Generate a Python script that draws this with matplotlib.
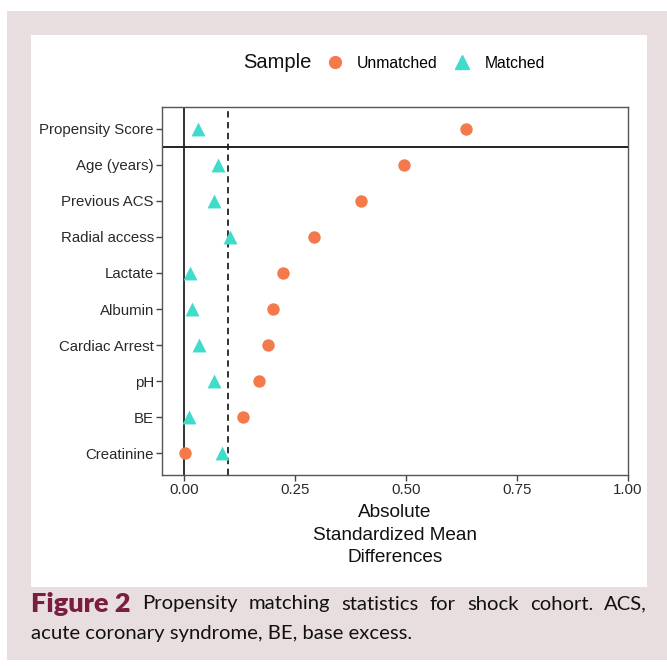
import matplotlib.pyplot as plt
from matplotlib.patches import Rectangle
from matplotlib.lines import Line2D

plt.rcParams["font.family"] = ["Liberation Sans", "DejaVu Sans"]

# covariates, top to bottom
covariates = ["Propensity Score", "Age (years)", "Previous ACS", "Radial access",
              "Lactate", "Albumin", "Cardiac Arrest", "pH", "BE", "Creatinine"]
unmatched = [0.635, 0.496, 0.399, 0.293, 0.223, 0.200, 0.189, 0.168, 0.133, 0.002]
matched = [0.031, 0.076, 0.067, 0.103, 0.013, 0.017, 0.033, 0.067, 0.011, 0.085]
xticks = [0.00, 0.25, 0.50, 0.75, 1.00]
xtick_labels = ["0.00", "0.25", "0.50", "0.75", "1.00"]

caption_head = "Figure 2"
caption_line1 = "Propensity matching statistics for shock cohort. ACS,"
caption_line2 = "acute coronary syndrome, BE, base excess."

W, H = 667, 666
fig = plt.figure(figsize=(W / 100, H / 100), dpi=100)
fig.patch.set_facecolor("white")

def px_rect(x0, y0, x1, y1, color):
    # rectangle in pixel coords (y from top)
    fig.patches.append(Rectangle((x0 / W, 1 - y1 / H), (x1 - x0) / W, (y1 - y0) / H,
                                 transform=fig.transFigure, facecolor=color,
                                 edgecolor="none", zorder=-10))

px_rect(7, 11, 667, 660, "#e9dedf")
px_rect(31, 35, 647, 587, "white")

ax = fig.add_axes([162.3 / W, 1 - 475 / H, (627.7 - 162.3) / W, (475 - 107) / H])
ax.set_facecolor("white")

ypos = list(range(len(covariates)))[::-1]
orange = "#f4794c"
teal = "#40dccb"

ax.axvline(0, color="#222222", lw=1.3, zorder=1)
ax.axvline(0.1, color="#222222", lw=1.3, ls=(0, (3.5, 2.5)), zorder=1)
ax.axhline(ypos[0] - 0.5, color="#222222", lw=1.4, zorder=1)

ax.scatter(unmatched, ypos, s=80, marker="o", color=orange, zorder=3, linewidths=0)
ax.scatter(matched, ypos, s=100, marker="^", color=teal, zorder=3, linewidths=0)

ax.set_xlim(-0.049, 1.0)
ax.set_ylim(-0.6, len(covariates) - 0.4)
ax.set_yticks(ypos)
ax.set_yticklabels(covariates)
ax.set_xticks(xticks)
ax.set_xticklabels(xtick_labels)

for s in ax.spines.values():
    s.set_color("#555555")
    s.set_linewidth(1.0)
ax.tick_params(axis="both", direction="out", length=4, width=1.0, color="#444444",
               labelsize=10.8, labelcolor="#2a2a2a", pad=2)

ax.set_xlabel("Absolute\nStandardized Mean\nDifferences", fontsize=13.7,
              color="#111111", labelpad=5, linespacing=1.42)

# legend on top
fig.text(243 / W, 1 - 63 / H, "Sample", fontsize=14.5,
         va="center", ha="left", color="#111111")
handles = [Line2D([], [], marker="o", ls="none", color=orange, markersize=8.5),
           Line2D([], [], marker="^", ls="none", color=teal, markersize=9.5)]
fig.legend(handles, ["Unmatched", "Matched"], ncol=2, frameon=False,
           loc="center left", bbox_to_anchor=(311 / W, 1 - 63 / H),
           prop={"size": 11.3},
           handletextpad=0.8, columnspacing=1.0, handlelength=1.2)

# caption, justified first line
fig.canvas.draw()
renderer = fig.canvas.get_renderer()
left, right = 31, 647
y1 = 1 - 604 / H
head = fig.text(left / W, y1, caption_head, fontsize=19.5, family="Lato", weight="heavy",
                color="#7b1d40", va="center", ha="left")
words = caption_line1.split()
texts = [fig.text(0, y1, w, fontsize=14.6, family="Lato", color="#111111",
                  va="center", ha="left") for w in words]
fig.canvas.draw()
head_w = head.get_window_extent(renderer).width
widths = [t.get_window_extent(renderer).width for t in texts]
gap = (right - left - head_w - sum(widths)) / len(words)
x = left + head_w + gap
for t, w in zip(texts, widths):
    t.set_x(x / W)
    x += w + gap

fig.text(left / W, 1 - 634 / H, caption_line2, fontsize=14.6, family="Lato",
         color="#111111", va="center", ha="left")

plt.savefig("out.png", dpi=100, facecolor="white")
plt.close(fig)
